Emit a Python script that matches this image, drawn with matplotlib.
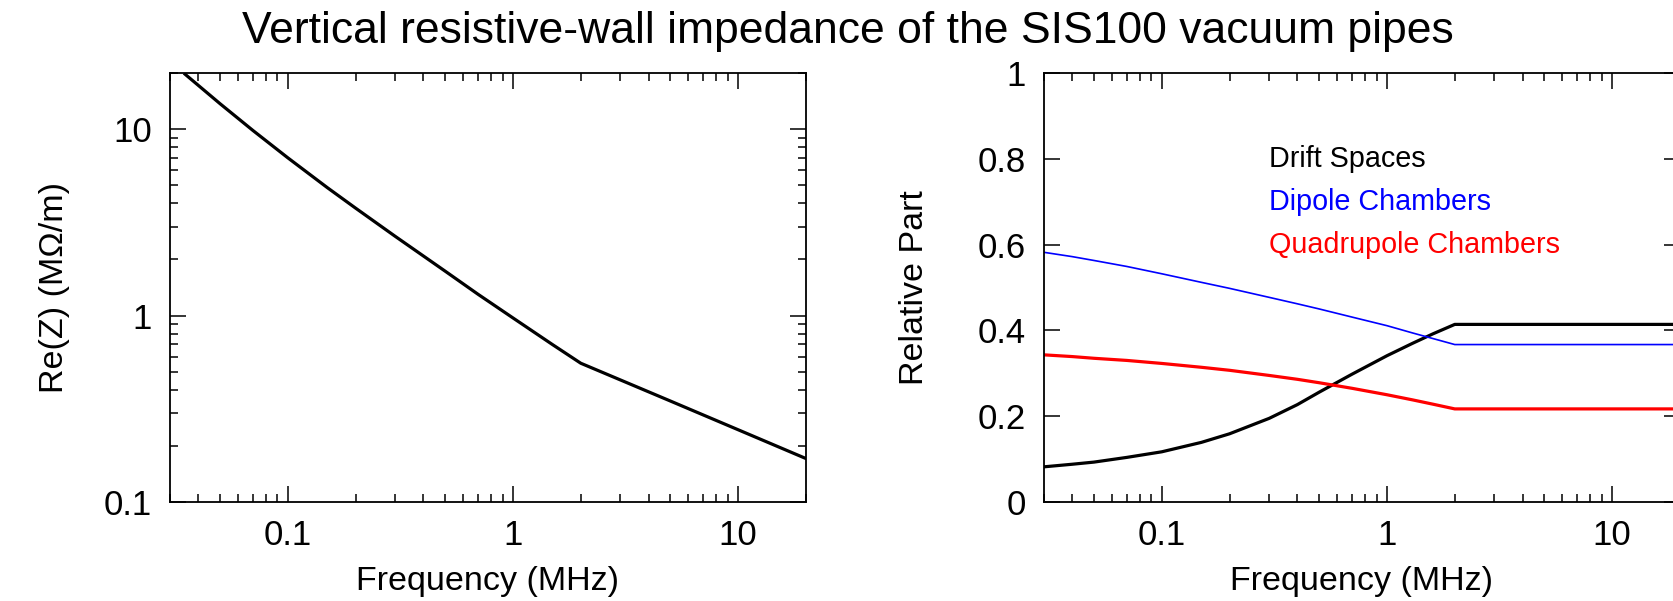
# Resistive-wall impedance of the SIS100 vacuum pipes, two panels.
import matplotlib
matplotlib.use("Agg")
import matplotlib.pyplot as plt
from matplotlib.ticker import LogLocator, NullFormatter

# Left panel: real part of the vertical impedance (MOhm/m) vs frequency (MHz).
freq_z = [0.035, 0.05, 0.07, 0.1, 0.15, 0.2, 0.3, 0.5, 0.7, 1.0, 1.5, 2.0, 5.0, 10.0, 20.0]
re_z = [19.7, 13.7, 9.84, 7.02, 4.85, 3.77, 2.66, 1.73, 1.30, 0.971, 0.698, 0.555,
        0.348, 0.244, 0.171]

# Right panel: relative contribution of each chamber type.
freq_part = [0.03, 0.04, 0.05, 0.07, 0.1, 0.15, 0.2, 0.3, 0.4, 0.5, 0.7, 1.0, 1.3, 1.6, 2.0, 20.0]
drift = [0.082, 0.088, 0.093, 0.104, 0.117, 0.139, 0.159, 0.195, 0.227, 0.256,
         0.298, 0.341, 0.370, 0.392, 0.414, 0.414]
dipole = [0.582, 0.572, 0.563, 0.549, 0.532, 0.512, 0.498, 0.477, 0.462, 0.450,
          0.431, 0.411, 0.394, 0.381, 0.367, 0.367]
quad = [0.343, 0.339, 0.335, 0.330, 0.323, 0.314, 0.307, 0.295, 0.286, 0.278,
        0.265, 0.250, 0.238, 0.228, 0.217, 0.217]

series_names = ["Drift Spaces", "Dipole Chambers", "Quadrupole Chambers"]
series_colors = ["black", "blue", "red"]
label_y = [0.8, 0.7, 0.6]
x_ticks = [0.1, 1, 10]
x_ticklabels = ["0.1", "1", "10"]
z_ticks = [0.1, 1, 10]
z_ticklabels = ["0.1", "1", "10"]
part_ticks = [0, 0.2, 0.4, 0.6, 0.8, 1]
part_ticklabels = ["0", "0.2", "0.4", "0.6", "0.8", "1"]

plt.rcParams["font.family"] = ["Liberation Sans", "DejaVu Sans"]

W, H = 1673, 601
fig = plt.figure(figsize=(W / 100, H / 100), dpi=100)

# axes boxes in pixels; the right one runs off the edge like in the original
ax1 = fig.add_axes([170 / W, (H - 502) / H, 636 / W, 429 / H])
ax2 = fig.add_axes([1044 / W, (H - 502) / H, 636 / W, 429 / H])


def style_axis(ax):
    for s in ax.spines.values():
        s.set_linewidth(1.3)
    ax.tick_params(which="both", direction="in", top=True, right=True,
                   width=1.1, labelsize=25)
    ax.tick_params(axis="x", pad=12)
    ax.tick_params(axis="y", pad=13)
    ax.tick_params(which="major", length=11.5)
    ax.tick_params(which="minor", length=5.8)


# left panel
ax1.plot(freq_z, re_z, color="black", lw=2.3)
ax1.set_xscale("log")
ax1.set_yscale("log")
ax1.set_xlim(0.03, 20)
ax1.set_ylim(0.1, 20)
ax1.set_xticks(x_ticks, x_ticklabels)
ax1.set_yticks(z_ticks, z_ticklabels)
ax1.xaxis.set_minor_locator(LogLocator(base=10, subs=range(2, 10), numticks=20))
ax1.yaxis.set_minor_locator(LogLocator(base=10, subs=range(2, 10), numticks=20))
ax1.xaxis.set_minor_formatter(NullFormatter())
ax1.yaxis.set_minor_formatter(NullFormatter())
style_axis(ax1)
ax1.set_xlabel("Frequency (MHz)", fontsize=24.5, labelpad=10)
ax1.set_ylabel("Re(Z) (M\u03a9/m)", fontsize=24.5, labelpad=24)

# right panel
for vals, col in zip([drift, dipole, quad], series_colors):
    lw = 1.2 if col == "blue" else 2.3
    ax2.plot(freq_part, vals, color=col, lw=lw)
ax2.set_xscale("log")
ax2.set_xlim(0.03, 20)
ax2.set_ylim(0, 1)
ax2.set_xticks(x_ticks, x_ticklabels)
ax2.xaxis.set_minor_locator(LogLocator(base=10, subs=range(2, 10), numticks=20))
ax2.xaxis.set_minor_formatter(NullFormatter())
ax2.set_yticks(part_ticks, part_ticklabels)
style_axis(ax2)
ax2.set_xlabel("Frequency (MHz)", fontsize=24.5, labelpad=10)
ax2.set_ylabel("Relative Part", fontsize=24.5, labelpad=34)

for name, col, yy in zip(series_names, series_colors, label_y):
    ax2.text(0.3, yy, name, color=col, fontsize=20.7, va="center", ha="left")

fig.text(0.507, 0.947, "Vertical resistive-wall impedance of the SIS100 vacuum pipes",
         ha="center", va="center", fontsize=32)

fig.savefig("out.png", dpi=100)
